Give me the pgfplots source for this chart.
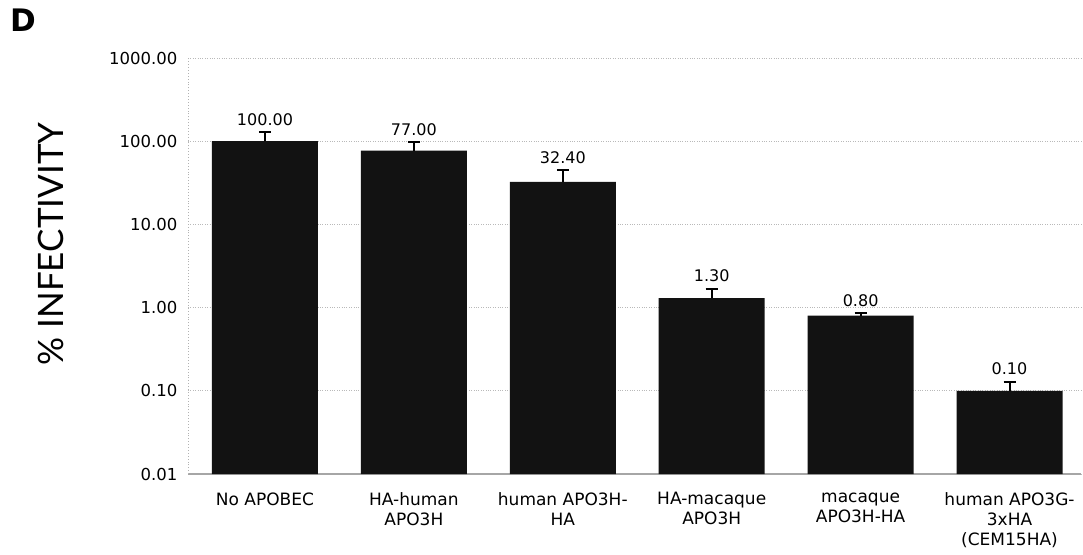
\documentclass[border=0pt]{standalone}
\usepackage{pgfplots}
\pgfplotsset{compat=1.18}
\usepackage{fontspec}
\setmainfont{DejaVu Sans}
\newfontfamily\labelfont{Lato}
\begin{document}
\begin{tikzpicture}
\useasboundingbox (0,0) rectangle (1083pt,554pt);
\node[font=\fontsize{31}{31}\selectfont\bfseries, anchor=base west, inner sep=0pt] at (10pt,522pt) {D};
\begin{axis}[
  at={(188pt,80pt)}, anchor=south west,
  scale only axis, width=893pt, height=416pt,
  ymode=log, ymin=0.01, ymax=1000, log origin y=infty,
  xmin=-0.517, xmax=5.48,
  axis x line*=bottom, axis y line*=left,
  x axis line style={-, gray!70, line width=1.2pt},
  y axis line style={-, gray!60, dotted, line width=0.9pt},
  ytick={0.01,0.1,1,10,100,1000},
  yticklabels={0.01,0.10,1.00,10.00,100.00,1000.00},
  yminorticks=false,
  ymajorgrids, grid style={gray!55, dotted, line width=0.9pt},
  major tick length=0pt,
  yticklabel style={font=\fontsize{16.5}{19}\selectfont, xshift=-7pt},
  xtick={0,1,2,3,4,5},
  xticklabels={No APOBEC,{HA-human\\APO3H},{human APO3H-\\HA},{HA-macaque\\APO3H},{macaque\\APO3H-HA},{human APO3G-\\3xHA\\(CEM15HA)}},
  xticklabel style={align=center, yshift=-15pt, font=\fontsize{17}{20}\selectfont},
  ylabel={\labelfont\fontsize{35}{35}\selectfont \% INFECTIVITY},
  ylabel style={at={(axis description cs:-0.1534,0.553)}, anchor=center},
  clip=false,
]
\addplot[ybar, bar width=106pt, fill=black!93, draw=none,
  error bars/.cd, y dir=plus, y explicit,
  error bar style={line width=2pt, black},
  error mark options={rotate=90, mark size=6pt, line width=2pt, black}]
  coordinates {(0,100) +- (0,28) (1,77) +- (0,20) (2,32.4) +- (0,12.4)
               (3,1.3) +- (0,0.39) (4,0.8) +- (0,0.05) (5,0.1) +- (0,0.029)};
\addplot[draw=none, mark=none, nodes near coords, point meta=explicit symbolic,
  nodes near coords style={anchor=south, font=\fontsize{16}{19}\selectfont, yshift=3pt}]
  coordinates {(0,128)[100.00] (1,97)[77.00] (2,44.8)[32.40]
               (3,1.69)[1.30] (4,0.85)[0.80] (5,0.129)[0.10]};
\end{axis}
\end{tikzpicture}
\end{document}
